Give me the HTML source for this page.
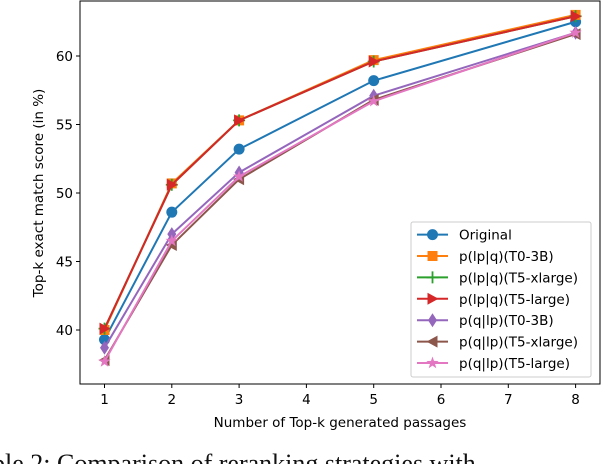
<!DOCTYPE html>
<html><head><meta charset="utf-8"><style>
html,body{margin:0;padding:0;background:#fff;width:612px;height:464px;overflow:hidden;}
svg{display:block;font-family:"DejaVu Sans","Liberation Sans",sans-serif;}
</style></head><body>
<svg id="chart" width="612" height="464">
<g id="plot"></g>
<text x="-8" y="472" font-family="Liberation Serif, serif" font-size="26" fill="#111">ble 2:  Comparison  of  reranking  strategies  with</text>
</svg>
<script>
const categories=[1,2,3,5,8];
const seriesNames=["Original","p(lp|q)(T0-3B)","p(lp|q)(T5-xlarge)","p(lp|q)(T5-large)","p(q|lp)(T0-3B)","p(q|lp)(T5-xlarge)","p(q|lp)(T5-large)"];
const sOriginal=[39.3,48.6,53.2,58.2,62.5];
const sLpqT0=[40.0,50.7,55.3,59.7,63.0];
const sLpqT5xl=[40.1,50.6,55.3,59.6,62.9];
const sLpqT5l=[40.1,50.6,55.3,59.6,62.9];
const sQlpT0=[38.7,47.0,51.5,57.1,61.7];
const sQlpT5xl=[37.8,46.2,51.0,56.8,61.6];
const sQlpT5l=[37.7,46.5,51.2,56.7,61.7];
const xTicks=[1,2,3,4,5,6,7,8];
const yTicks=[40,45,50,55,60];
const allSeries=[sOriginal,sLpqT0,sLpqT5xl,sLpqT5l,sQlpT0,sQlpT5xl,sQlpT5l];
const colors=["#1f77b4","#ff7f0e","#2ca02c","#d62728","#9467bd","#8c564b","#e377c2"];
const markers=["circle","square","plus","tright","diamond","tleft","star"];
const L=80,R=600,T=1,B=384;
function xs(v){return 104.5+(v-1)*67.3;}
function ys(v){return 56+(60-v)*13.7;}
const NS="http://www.w3.org/2000/svg";
const g=document.getElementById('plot');
function el(t,a,p){const e=document.createElementNS(NS,t);for(const k in a)e.setAttribute(k,a[k]);(p||g).appendChild(e);return e;}
function marker(type,x,y,c,parent){
  let e;
  if(type==="circle")e=el("circle",{cx:x,cy:y,r:5.5,fill:c},parent);
  else if(type==="square")e=el("rect",{x:x-5,y:y-5,width:10,height:10,fill:c},parent);
  else if(type==="plus")e=el("path",{d:`M${x-6} ${y}H${x+6}M${x} ${y-6}V${y+6}`,stroke:c,"stroke-width":1.8,fill:"none"},parent);
  else if(type==="tright")e=el("polygon",{points:`${x-5},${y-6} ${x+6},${y} ${x-5},${y+6}`,fill:c},parent);
  else if(type==="tleft")e=el("polygon",{points:`${x+5},${y-6} ${x-6},${y} ${x+5},${y+6}`,fill:c},parent);
  else if(type==="diamond")e=el("polygon",{points:`${x},${y-7} ${x+4.5},${y} ${x},${y+7} ${x-4.5},${y}`,fill:c},parent);
  else {let p=[];for(let i=0;i<10;i++){const r=i%2?2.6:6.5,a=-Math.PI/2+i*Math.PI/5;p.push((x+r*Math.cos(a)).toFixed(1)+","+(y+r*Math.sin(a)).toFixed(1));}e=el("polygon",{points:p.join(" "),fill:c},parent);}
  return e;
}
const fr=el("rect",{x:L,y:T,width:R-L,height:B-T,fill:"none",stroke:"#000","stroke-width":1});


xTicks.forEach(v=>{
  const t=el("line",{x1:xs(v),x2:xs(v),y1:B,y2:B+4,stroke:"#000"});
  
  
  const lb=el("text",{x:xs(v),y:B+20,"text-anchor":"middle","font-size":13.5});lb.textContent=v;
  
  
});
yTicks.forEach(v=>{
  const t=el("line",{x1:L-4,x2:L,y1:ys(v),y2:ys(v),stroke:"#000"});
  
  
  const lb=el("text",{x:L-7,y:ys(v)+5,"text-anchor":"end","font-size":13.5});lb.textContent=v;
  
  
});
const xt=el("text",{x:340,y:427,"text-anchor":"middle","font-size":13.5});xt.textContent="Number of Top-k generated passages";


const yt=el("text",{x:0,y:0,"text-anchor":"middle","font-size":13.5,transform:"translate(43,193) rotate(-90)"});yt.textContent="Top-k exact match score (in %)";


allSeries.forEach((s,i)=>{
  const sg=el("g",{});
  
  
  el("polyline",{points:s.map((v,j)=>xs(categories[j])+","+ys(v)).join(" "),fill:"none",stroke:colors[i],"stroke-width":2},sg);
  s.forEach((v,j)=>{const m=marker(markers[i],xs(categories[j]),ys(v),colors[i],sg);
    
    });
});
const lg=el("g",{});


el("rect",{x:411,y:222,width:180,height:155,rx:2,fill:"#fff","fill-opacity":0.85,stroke:"#ccc"},lg);
seriesNames.forEach((n,i)=>{
  const y=234.6+i*21.4;
  const eg=el("g",{},lg);
  
  
  el("line",{x1:417,x2:448,y1:y,y2:y,stroke:colors[i],"stroke-width":2},eg);
  marker(markers[i],432.5,y,colors[i],eg);
  const t=el("text",{x:459,y:y+5,"font-size":13.5},eg);t.textContent=n;
});
</script>
</body></html>
